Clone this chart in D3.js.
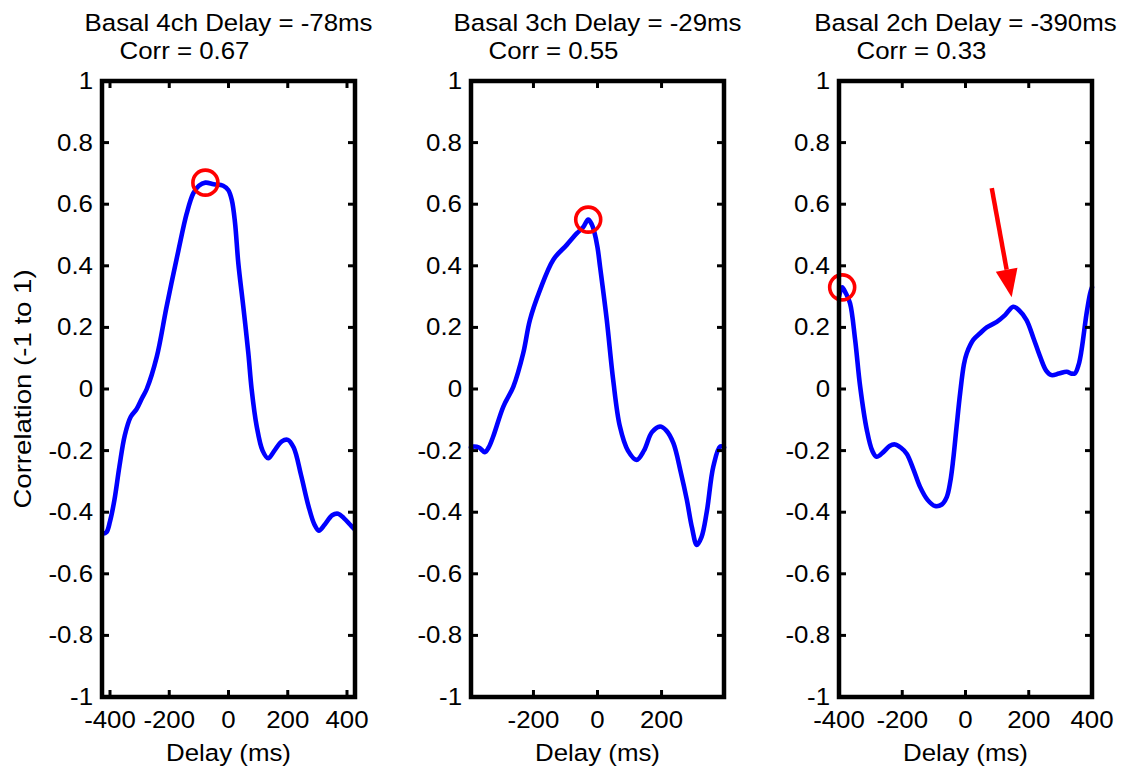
<!DOCTYPE html>
<html>
<head>
<meta charset="utf-8">
<script src="https://cdn.jsdelivr.net/npm/d3@7"></script>
<style>
  html, body { margin: 0; padding: 0; background: #fff; }
  svg { display: block; }
  text { font-family: "Liberation Sans", Arial, Helvetica, sans-serif; fill: #000; }
</style>
</head>
<body>
<svg id="chart" width="1131" height="772"></svg>
<script>
// Cross-correlation between segment strain curves, one panel per view.
const panelNames = ["Basal 4ch", "Basal 3ch", "Basal 2ch"];
const peakDelay = [-78, -29, -390];   // ms
const peakCorr  = [0.67, 0.55, 0.33];

const xLimits = [[-427, 427], [-395, 395], [-400, 400]];
const xTicks = [[-400, -200, 0, 200, 400], [-200, 0, 200], [-400, -200, 0, 200, 400]];
const yTicks = [-1, -0.8, -0.6, -0.4, -0.2, 0, 0.2, 0.4, 0.6, 0.8, 1];

// Correlation vs delay (ms)
const delay4ch = [-425, -412, -400, -385, -368, -350, -330, -310, -292, -276, -242, -209, -169, -141, -119, -100, -78, -50, -18, -1, 11, 22, 33, 50, 67, 78, 95, 115, 134, 155, 180, 200, 220, 245, 270, 290, 305, 325, 350, 370, 390, 410, 425];
const corr4ch  = [-0.47, -0.465, -0.43, -0.36, -0.25, -0.15, -0.09, -0.065, -0.03, 0.0, 0.105, 0.267, 0.45, 0.57, 0.635, 0.66, 0.67, 0.665, 0.66, 0.646, 0.614, 0.54, 0.41, 0.267, 0.116, 0.0, -0.12, -0.2, -0.225, -0.2, -0.17, -0.165, -0.19, -0.28, -0.38, -0.44, -0.46, -0.44, -0.41, -0.405, -0.42, -0.44, -0.455];

const delay3ch = [-395, -388, -370, -352, -340, -326, -294, -263, -232, -211, -180, -138, -96, -65, -45, -29, -18, -10, 0, 8, 29, 49, 70, 95, 122, 145, 170, 195, 215, 237, 260, 279, 295, 310, 325, 341, 362, 383, 395];
const corr3ch  = [-0.19, -0.187, -0.19, -0.205, -0.19, -0.155, -0.057, 0.007, 0.116, 0.224, 0.32, 0.42, 0.468, 0.505, 0.525, 0.55, 0.535, 0.51, 0.46, 0.397, 0.224, 0.029, -0.122, -0.2, -0.23, -0.2, -0.14, -0.122, -0.135, -0.176, -0.27, -0.36, -0.45, -0.506, -0.48, -0.40, -0.25, -0.187, -0.19];

const delay2ch = [-400, -390, -378, -365, -349, -333, -312, -295, -281, -260, -240, -223, -205, -186, -165, -144, -120, -96, -75, -59, -48, -39, -28, -17, -5, 4, 25, 45, 67, 99, 125, 151, 170, 193, 215, 236, 255, 272, 295, 320, 335, 346, 358, 367, 383, 394, 400];
const corr2ch  = [0.30, 0.33, 0.31, 0.278, 0.16, 0.007, -0.133, -0.2, -0.22, -0.205, -0.185, -0.18, -0.19, -0.21, -0.26, -0.317, -0.36, -0.38, -0.375, -0.35, -0.3, -0.23, -0.12, -0.014, 0.08, 0.116, 0.16, 0.18, 0.2, 0.218, 0.24, 0.267, 0.255, 0.224, 0.165, 0.105, 0.06, 0.045, 0.05, 0.056, 0.05, 0.051, 0.08, 0.127, 0.246, 0.31, 0.33];

const delays = [delay4ch, delay3ch, delay2ch];
const corrs  = [corr4ch, corr3ch, corr2ch];

// Arrow pointing at the secondary peak in the 2ch panel (delay, corr)
const arrowFrom = [83, 0.652];
const arrowTo   = [146, 0.298];

// Layout
const panelLeft = [102, 471, 839];
const panelWidth = 253;
const plotTop = 81, plotBottom = 697;
const fontSize = 23.5;
const xStretch = 1.1;

const svg = d3.select("#chart");
svg.append("rect").attr("width", 1131).attr("height", 772).attr("fill", "#fff");

function label(g, str, x, y, anchor, extra, size, stretch) {
  return g.append("text")
    .attr("transform", `translate(${x},${y})` + (extra || "") + ` scale(${stretch || xStretch},1)`)
    .attr("text-anchor", anchor)
    .attr("font-size", size || fontSize)
    .text(str);
}

const fmt = v => String(+v.toFixed(1));

panelNames.forEach((name, i) => {
  const left = panelLeft[i], right = left + panelWidth;
  const cx = (left + right) / 2;
  const x = d3.scaleLinear().domain(xLimits[i]).range([left, right]);
  const y = d3.scaleLinear().domain([-1, 1]).range([plotBottom, plotTop]);
  const g = svg.append("g");

  // curve
  const pts = delays[i].map((d, k) => [d, corrs[i][k]]);
  g.append("path")
    .datum(pts)
    .attr("fill", "none")
    .attr("stroke", "#0000ff")
    .attr("stroke-width", 4.6)
    .attr("stroke-linejoin", "round")
    .attr("stroke-linecap", "round")
    .attr("d", d3.line().x(d => x(d[0])).y(d => y(d[1])).curve(d3.curveCatmullRom.alpha(0.5)));

  // peak marker
  g.append("circle")
    .attr("cx", x(peakDelay[i]))
    .attr("cy", y(peakCorr[i]))
    .attr("r", 12.5)
    .attr("fill", "none")
    .attr("stroke", "#ff0000")
    .attr("stroke-width", 3.6);

  // inward ticks on all four sides
  const tickLen = 7;
  const xt = xTicks[i].filter(t => x(t) > left + 3 && x(t) < right - 3);
  g.selectAll(null).data(xt).enter().append("line")
    .attr("x1", d => x(d)).attr("x2", d => x(d))
    .attr("y1", plotBottom).attr("y2", plotBottom - tickLen)
    .attr("stroke", "#000").attr("stroke-width", 3);
  g.selectAll(null).data(xt).enter().append("line")
    .attr("x1", d => x(d)).attr("x2", d => x(d))
    .attr("y1", plotTop).attr("y2", plotTop + tickLen)
    .attr("stroke", "#000").attr("stroke-width", 3);
  const yt = yTicks.filter(t => y(t) > plotTop + 3 && y(t) < plotBottom - 3);
  g.selectAll(null).data(yt).enter().append("line")
    .attr("x1", left).attr("x2", left + tickLen)
    .attr("y1", d => y(d)).attr("y2", d => y(d))
    .attr("stroke", "#000").attr("stroke-width", 3);
  g.selectAll(null).data(yt).enter().append("line")
    .attr("x1", right).attr("x2", right - tickLen)
    .attr("y1", d => y(d)).attr("y2", d => y(d))
    .attr("stroke", "#000").attr("stroke-width", 3);

  // frame
  g.append("rect")
    .attr("x", left).attr("y", plotTop)
    .attr("width", panelWidth).attr("height", plotBottom - plotTop)
    .attr("fill", "none").attr("stroke", "#000").attr("stroke-width", 4.5);

  // tick labels
  yTicks.forEach(t => label(g, fmt(t), left - 9, y(t) + 8, "end"));
  xTicks[i].forEach(t => label(g, fmt(t), x(t), 728, "middle"));

  // axis label
  label(g, "Delay (ms)", cx, 761, "middle");

  // two-line title
  label(g, `${name} Delay = ${peakDelay[i]}ms`, cx, 31, "middle");
  label(g, `Corr = ${peakCorr[i].toFixed(2)}`, cx - 109, 59, "start");
});

// y-axis label on the first panel
label(svg, "Correlation (-1 to 1)", 31, 389, "middle", " rotate(-90)", 23, 1.2);

// annotation arrow in the third panel
{
  const i = 2, left = panelLeft[i];
  const x = d3.scaleLinear().domain(xLimits[i]).range([left, left + panelWidth]);
  const y = d3.scaleLinear().domain([-1, 1]).range([plotBottom, plotTop]);
  const x0 = x(arrowFrom[0]), y0 = y(arrowFrom[1]);
  const x1 = x(arrowTo[0]), y1 = y(arrowTo[1]);
  const ang = Math.atan2(y1 - y0, x1 - x0);
  const headLen = 28, headHalf = 11;
  const bx = x1 - headLen * Math.cos(ang), by = y1 - headLen * Math.sin(ang);
  svg.append("line")
    .attr("x1", x0).attr("y1", y0).attr("x2", bx).attr("y2", by)
    .attr("stroke", "#ff0000").attr("stroke-width", 4.5);
  const px = -Math.sin(ang), py = Math.cos(ang);
  svg.append("path")
    .attr("d", `M${x1},${y1}L${bx + headHalf * px},${by + headHalf * py}L${bx - headHalf * px},${by - headHalf * py}Z`)
    .attr("fill", "#ff0000");
}
</script>
</body>
</html>
